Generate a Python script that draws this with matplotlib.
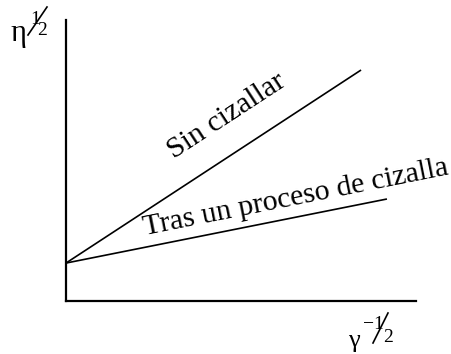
import numpy as np
import matplotlib
matplotlib.use("Agg")
import matplotlib.pyplot as plt
from matplotlib.lines import Line2D

# Linear relations: eta^(1/2) versus gamma^(-1/2)
series_names = ["Sin cizallar", "Tras un proceso de cizalla"]
x_start = [0.0, 0.0]
x_end = [8.43, 9.17]
y_start = [1.35, 1.35]
y_end = [8.22, 3.63]

W, H = 452, 354
fig = plt.figure(figsize=(W / 100, H / 100), dpi=100)
ax = fig.add_axes([66 / W, (H - 301) / H, 350 / W, 281 / H])
ax.set_xlim(0, 10)
ax.set_ylim(0, 10)
for s in ("top", "right"):
    ax.spines[s].set_visible(False)
for s in ("left", "bottom"):
    ax.spines[s].set_linewidth(1.6)
ax.set_xticks([])
ax.set_yticks([])

serif = "Liberation Serif"

for xs, xe, ys, ye in zip(x_start, x_end, y_start, y_end):
    ax.plot([xs, xe], [ys, ye], color="black", lw=1.2, solid_capstyle="butt")

fig.canvas.draw()


def angle_of(i):
    p0 = ax.transData.transform((x_start[i], y_start[i]))
    p1 = ax.transData.transform((x_end[i], y_end[i]))
    return np.degrees(np.arctan2(p1[1] - p0[1], p1[0] - p0[0]))


label_pos = [(4.70, 6.37), (6.60, 3.42)]
for i, name in enumerate(series_names):
    ax.text(label_pos[i][0], label_pos[i][1], name, rotation=angle_of(i),
            rotation_mode="anchor", ha="center", va="baseline",
            fontsize=21.5, family=serif)


def ftext(x, y, s, size, ha="left"):
    fig.text(x / W, 1 - y / H, s, fontsize=size, family=serif,
             va="baseline", ha=ha)


def fslash(x0, y0, x1, y1):
    fig.add_artist(Line2D([x0 / W, x1 / W], [1 - y0 / H, 1 - y1 / H],
                          transform=fig.transFigure, color="black", lw=1.2))


# y axis label: eta^(1/2)
ftext(10, 41, "η", 22)
ftext(35, 24, "1", 14, ha="center")
fslash(28, 35, 47, 7)
ftext(42, 35, "2", 14, ha="center")

# x axis label: gamma^(-1/2)
ftext(348, 347, "γ", 19)
ftext(369, 329, "−", 14, ha="center")
ftext(378, 329, "1", 14, ha="center")
fslash(373, 343, 388, 313)
ftext(388, 342, "2", 14, ha="center")

fig.savefig("out.png", dpi=100)
